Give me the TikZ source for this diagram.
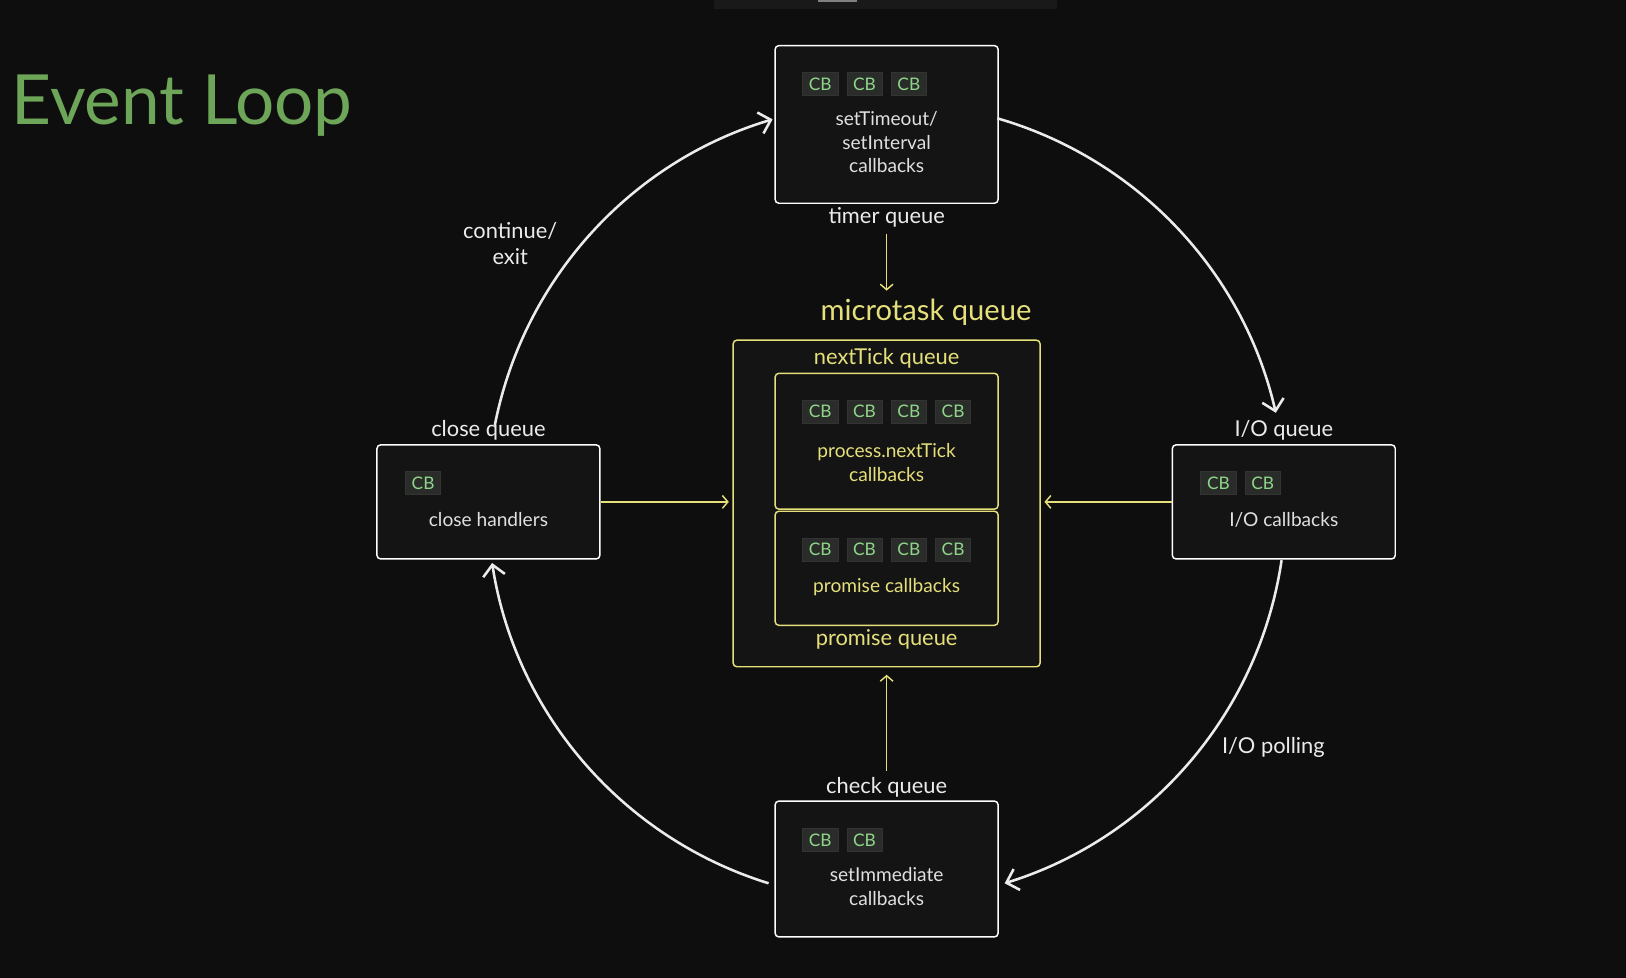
\documentclass[tikz,border=0pt]{standalone}
\usepackage{fontspec}
\setmainfont{Lato}
\usetikzlibrary{arrows.meta,positioning}
\definecolor{bg}{HTML}{0E0E0E}
\definecolor{boxfill}{HTML}{141414}
\definecolor{qyellow}{HTML}{E6E07A}
\definecolor{cbgreen}{HTML}{8FD68A}
\definecolor{cbfill}{HTML}{2A2C2A}
\definecolor{titlegreen}{HTML}{6DA658}
\tikzset{queue box/.style={
		draw=white,
		thick,
		fill=boxfill,
		rounded corners=2pt,
		minimum width=4.3cm,
	},
	micro box/.style={
		draw=qyellow,
		thick,
		fill=boxfill,
		rounded corners=2pt,
		minimum width=4.3cm,
	},
	cb style/.style={
		draw=black!60!gray,
		fill=cbfill,
		text=cbgreen,
		minimum width=0.68cm,
		minimum height=0.44cm,
		inner sep=0pt,
		font=\fontsize{9.5}{11}\selectfont,
	},
	box text/.style={
		text=white!88!black,
		align=center,
		font=\fontsize{10.5}{13}\selectfont,
	},
	queue label/.style={
		text=white!92!black,
		font=\fontsize{12}{14}\selectfont,
	},
	loop arrow/.style={
		draw=white!92!black,
		line width=1.4pt,
		-{Straight Barb[length=6pt,width=12pt,line width=1.4pt]},
	},
	feed arrow/.style={
		draw=qyellow,
		thick,
		-{Straight Barb[length=3pt,width=7pt]},
	}
}
\begin{document}
\begin{tikzpicture}[x=0.02cm,y=-0.02cm]
	\fill[bg] (0,0) rectangle (1568,943);
	\useasboundingbox (0,0) rectangle (1568,943);
	\fill[black!80!gray] (689,0) rectangle (1019,9);
	\fill[gray] (789,0) rectangle (826,2);
	
	\node[anchor=west,text=titlegreen,font=\fontsize{38}{44}\selectfont] (title) at (5,102) {Event Loop};
	
	% timer queue
	\node[queue box,minimum height=3.04cm] (timer) at (855,120) {};
	\node[cb style] (t1) at (791,81) {CB};
	\node[cb style,right=0.16cm of t1] (t2) {CB};
	\node[cb style,right=0.16cm of t2] (t3) {CB};
	\node[box text] (ttext) at (855,137) {setTimeout/\\setInterval\\callbacks};
	\node[queue label] (tlabel) at (855,210) {timer queue};
	
	% I/O queue
	\node[queue box,minimum height=2.2cm] (io) at (1238,484) {};
	\node[cb style] (i1) at (1175,466) {CB};
	\node[cb style,right=0.16cm of i1] (i2) {CB};
	\node[box text] (itext) at (1238,501) {I/O callbacks};
	\node[queue label] (ilabel) at (1238,415) {I/O queue};
	
	% check queue
	\node[queue box,minimum height=2.62cm] (check) at (855,838) {};
	\node[cb style] (c1) at (791,810) {CB};
	\node[cb style,right=0.16cm of c1] (c2) {CB};
	\node[box text] (ctext) at (855,855) {setImmediate\\callbacks};
	\node[queue label] (clabel) at (855,759) {check queue};
	
	% close queue
	\node[queue box,minimum height=2.2cm] (close) at (471,484) {};
	\node[cb style] (x1) at (408,466) {CB};
	\node[box text] (xtext) at (471,501) {close handlers};
	\node[queue label] (xlabel) at (471,415) {close queue};
	
	% microtask queue
	\node[micro box,minimum width=5.92cm,minimum height=6.3cm] (micro) at (855,485.5) {};
	\node[text=qyellow,font=\fontsize{16}{19}\selectfont] (mlabel) at (893,301) {microtask queue};
	\node[text=qyellow,font=\fontsize{12}{14}\selectfont] (nlabel) at (855,346) {nextTick queue};
	\node[micro box,minimum height=2.62cm] (tick) at (855,425.5) {};
	\node[cb style] (n1) at (791,397) {CB};
	\node[cb style,right=0.16cm of n1] (n2) {CB};
	\node[cb style,right=0.16cm of n2] (n3) {CB};
	\node[cb style,right=0.16cm of n3] (n4) {CB};
	\node[box text,text=qyellow] (ntext) at (855,446) {process.nextTick\\callbacks};
	\node[micro box,minimum height=2.2cm] (promise) at (855,548) {};
	\node[cb style] (p1) at (791,530) {CB};
	\node[cb style,right=0.16cm of p1] (p2) {CB};
	\node[cb style,right=0.16cm of p2] (p3) {CB};
	\node[cb style,right=0.16cm of p3] (p4) {CB};
	\node[box text,text=qyellow] (ptext) at (855,566) {promise callbacks};
	\node[text=qyellow,font=\fontsize{12}{14}\selectfont] (plabel) at (855,617) {promise queue};
	
	% feeds into the microtask queue
	\draw[feed arrow] (tlabel.south) -- ([yshift=1pt]mlabel.north -| tlabel);
	\draw[feed arrow] (close.east) -- ([xshift=-2pt]micro.west |- close.east);
	\draw[feed arrow] (io.west) -- ([xshift=2pt]micro.east |- io.west);
	\draw[feed arrow] (clabel.north) -- ([yshift=-4pt]micro.south);
	
	% the loop
	\coordinate (hub) at (855,484);
	\draw[loop arrow] ([shift={(-73.9:385)}]hub) arc[start angle=-73.9,end angle=-12.9,radius=385];
	\draw[loop arrow] ([shift={(8.4:385)}]hub) arc[start angle=8.4,end angle=72.8,radius=385];
	\draw[loop arrow] ([shift={(107.2:385)}]hub) arc[start angle=107.2,end angle=171.2,radius=385];
	\draw[loop arrow] ([shift={(-169:385)}]hub) arc[start angle=-169,end angle=-106.6,radius=385];
	
	\node[queue label,align=center] (exit) at (492,235) {continue/\\exit};
	\node[queue label] (poll) at (1228,721) {I/O polling};
\end{tikzpicture}
\end{document}
